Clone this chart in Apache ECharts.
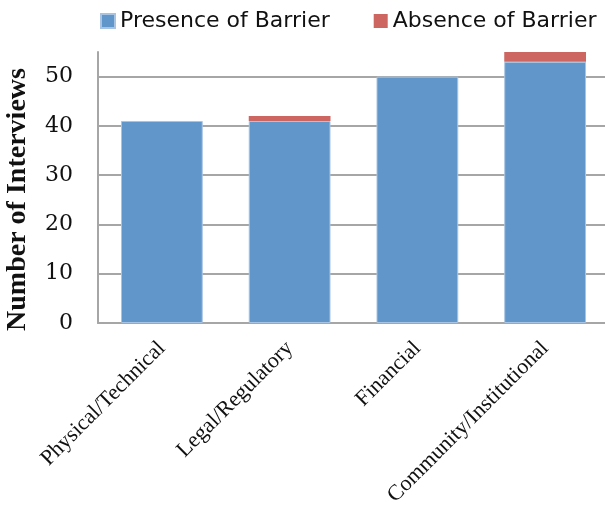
<!DOCTYPE html>
<html>
<head>
<meta charset="utf-8">
<script src="https://cdn.jsdelivr.net/npm/echarts@6/dist/echarts.min.js"></script>
<style>
  html, body { margin: 0; padding: 0; background: #fff; }
  #chart { width: 605px; height: 514px; }
</style>
</head>
<body>
<div id="chart"></div>
<script>
// Barrier categories and interview counts
const categories = ['Physical/Technical', 'Legal/Regulatory', 'Financial', 'Community/Institutional'];
const presenceValues = [41, 41, 50, 53];
const absenceValues = [0, 1, 0, 2];
const yTicks = [0, 10, 20, 30, 40, 50];

const serif = '"Liberation Serif", "DejaVu Serif", serif';
const wideSerif = '"DejaVu Serif", "Liberation Serif", serif';
const sans = '"DejaVu Sans", "Open Sans", sans-serif';
const gridGrey = '#a6a6a6';

const chart = echarts.init(document.getElementById('chart'), null, { renderer: 'canvas' });

chart.setOption({
  animation: false,
  backgroundColor: '#ffffff',
  legend: {
    top: 5,
    left: 95,
    itemWidth: 14,
    itemHeight: 14,
    itemGap: 44,
    icon: 'rect',
    textStyle: { fontFamily: sans, fontSize: 22, color: '#111' },
    data: ['Presence of Barrier', 'Absence of Barrier']
  },
  grid: {
    left: 98, top: 52, width: 511, height: 271,
    containLabel: false,
    outerBoundsMode: 'none'
  },
  xAxis: {
    type: 'category',
    data: categories,
    axisLine: { lineStyle: { color: gridGrey, width: 2 } },
    axisTick: { show: false },
    axisLabel: {
      rotate: 45,
      interval: 0,
      margin: 22,
      fontFamily: serif,
      fontSize: 22,
      color: '#111'
    }
  },
  yAxis: {
    type: 'value',
    min: 0,
    max: 55,
    interval: 10,
    name: 'Number of Interviews',
    nameLocation: 'middle',
    nameGap: 66,
    nameTextStyle: {
      fontFamily: serif,
      fontSize: 28,
      fontWeight: 'bold',
      color: '#111',
      padding: [0, 24, 0, 0]
    },
    axisLine: { show: true, lineStyle: { color: gridGrey, width: 2 } },
    axisTick: { show: false },
    splitLine: { showMaxLine: false, lineStyle: { color: gridGrey, width: 2 } },
    axisLabel: {
      margin: 25,
      fontFamily: wideSerif,
      fontSize: 22,
      color: '#111',
      formatter: v => (yTicks.includes(v) ? String(v) : '')
    }
  },
  series: [
    {
      name: 'Presence of Barrier',
      type: 'bar',
      stack: 'total',
      data: presenceValues,
      barCategoryGap: '36%',
      itemStyle: { color: '#6096c9', borderColor: '#a9c4e2', borderWidth: 1 }
    },
    {
      name: 'Absence of Barrier',
      type: 'bar',
      stack: 'total',
      data: absenceValues,
      barCategoryGap: '36%',
      itemStyle: { color: '#cd6661', borderWidth: 0 }
    }
  ]
});
</script>
</body>
</html>
